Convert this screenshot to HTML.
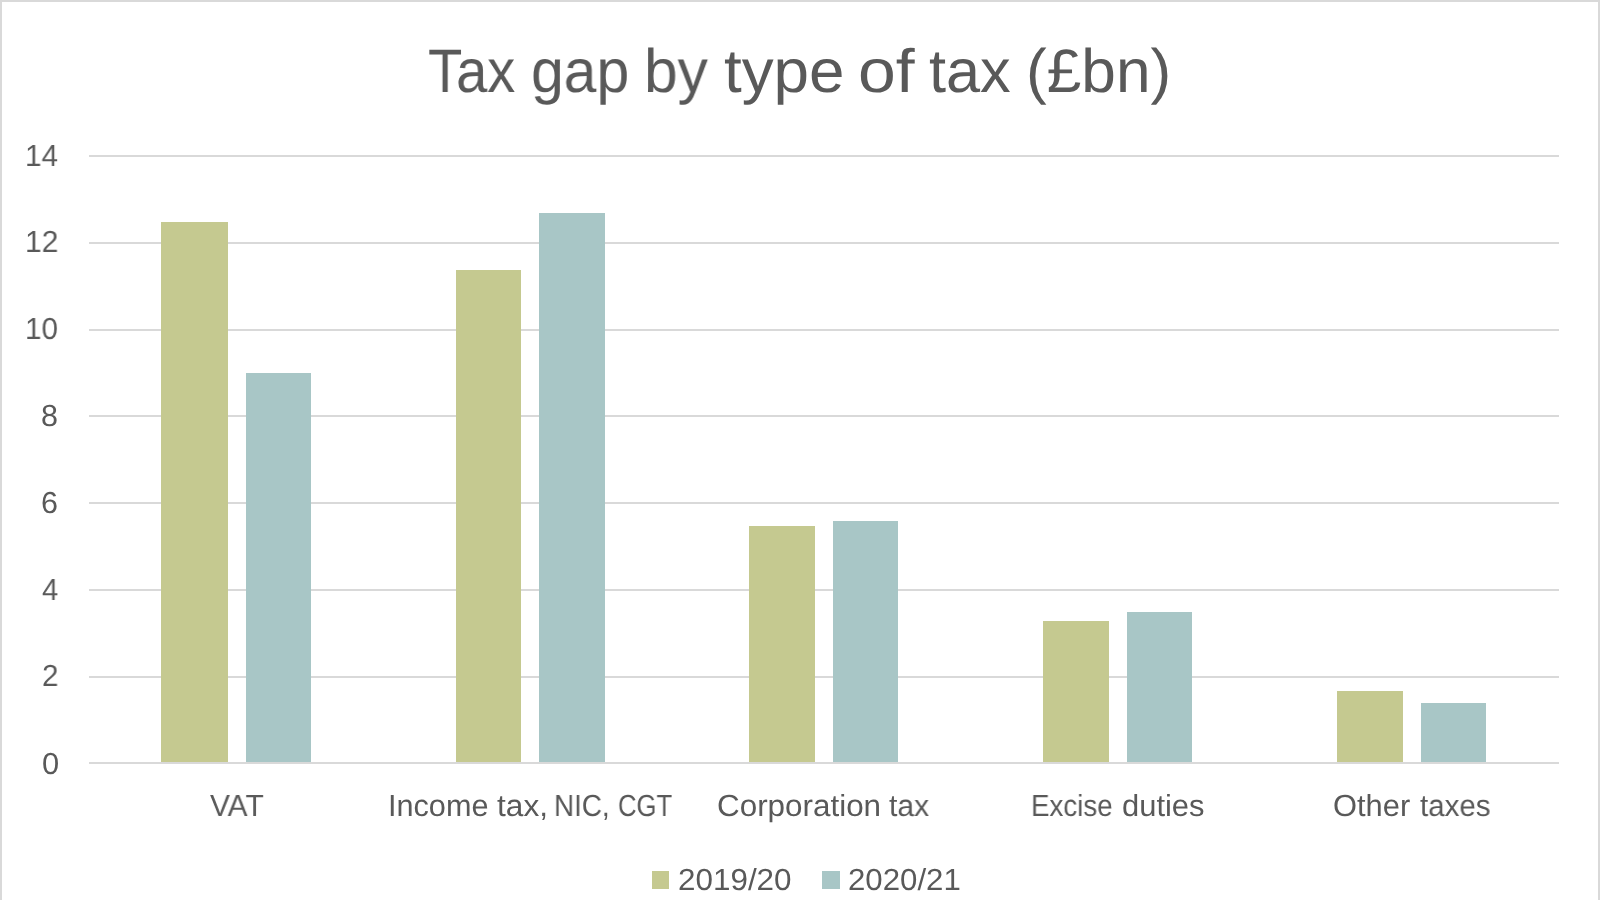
<!DOCTYPE html>
<html><head><meta charset="utf-8"><title>Tax gap by type of tax</title>
<style>
html,body{margin:0;padding:0;background:#fff;}
body{width:1600px;height:900px;position:relative;overflow:hidden;font-family:"Liberation Sans",sans-serif;color:#595959;}
.a{position:absolute;}
.t{position:absolute;white-space:nowrap;line-height:1;transform-origin:0 0;text-rendering:geometricPrecision;will-change:transform;}
</style></head><body>
<div class="a" style="left:89px;top:675.80px;width:1469.5px;height:2.2px;background:#d9d9d9"></div>
<div class="a" style="left:89px;top:589.20px;width:1469.5px;height:2.2px;background:#d9d9d9"></div>
<div class="a" style="left:89px;top:501.80px;width:1469.5px;height:2.2px;background:#d9d9d9"></div>
<div class="a" style="left:89px;top:415.30px;width:1469.5px;height:2.2px;background:#d9d9d9"></div>
<div class="a" style="left:89px;top:328.90px;width:1469.5px;height:2.2px;background:#d9d9d9"></div>
<div class="a" style="left:89px;top:241.80px;width:1469.5px;height:2.2px;background:#d9d9d9"></div>
<div class="a" style="left:89px;top:155.20px;width:1469.5px;height:2.2px;background:#d9d9d9"></div>
<div class="a" style="left:161.25px;top:221.90px;width:66.55px;height:540.10px;background:#c5c990"></div>
<div class="a" style="left:245.50px;top:373.40px;width:65.10px;height:388.60px;background:#a8c6c6"></div>
<div class="a" style="left:455.75px;top:269.70px;width:65.50px;height:492.30px;background:#c5c990"></div>
<div class="a" style="left:539.40px;top:212.50px;width:65.40px;height:549.50px;background:#a8c6c6"></div>
<div class="a" style="left:749.20px;top:525.60px;width:65.90px;height:236.40px;background:#c5c990"></div>
<div class="a" style="left:833.10px;top:520.75px;width:65.20px;height:241.25px;background:#a8c6c6"></div>
<div class="a" style="left:1043.20px;top:620.80px;width:65.80px;height:141.20px;background:#c5c990"></div>
<div class="a" style="left:1127.30px;top:612.00px;width:64.90px;height:150.00px;background:#a8c6c6"></div>
<div class="a" style="left:1337.00px;top:690.50px;width:65.80px;height:71.50px;background:#c5c990"></div>
<div class="a" style="left:1421.00px;top:703.30px;width:64.90px;height:58.70px;background:#a8c6c6"></div>
<div class="a" style="left:89px;top:762.00px;width:1469.5px;height:2.2px;background:#d9d9d9"></div>
<div class="a" style="left:0;top:0;width:1600px;height:2.4px;background:#d9d9d9"></div>
<div class="a" style="left:0;top:0;width:2.4px;height:900px;background:#d9d9d9"></div>
<div class="a" style="left:1597.6px;top:0;width:2.4px;height:900px;background:#d9d9d9"></div>
<div class="t" style="left:428.23px;top:41.35px;font-size:61.30px;transform:scaleX(0.9141)">Tax</div>
<div class="t" style="left:530.50px;top:41.35px;font-size:61.30px;transform:scaleX(0.9601)">gap</div>
<div class="t" style="left:644.08px;top:41.35px;font-size:61.30px;transform:scaleX(0.9876)">by</div>
<div class="t" style="left:723.54px;top:41.35px;font-size:61.30px;transform:scaleX(1.0407)">type</div>
<div class="t" style="left:858.37px;top:41.35px;font-size:61.30px;transform:scaleX(1.1077)">of</div>
<div class="t" style="left:929.08px;top:41.35px;font-size:61.30px;transform:scaleX(0.9975)">tax</div>
<div class="t" style="left:1025.62px;top:41.35px;font-size:61.30px;transform:scaleX(1.0147)">(£bn)</div>
<div class="t" style="left:25.08px;top:140.55px;font-size:30.50px;transform:scaleX(0.9730)">14</div>
<div class="t" style="left:24.86px;top:227.25px;font-size:30.50px;transform:scaleX(0.9828)">12</div>
<div class="t" style="left:24.88px;top:314.00px;font-size:30.50px;transform:scaleX(0.9712)">10</div>
<div class="t" style="left:41.39px;top:401.30px;font-size:30.50px;transform:scaleX(0.9987)">8</div>
<div class="t" style="left:41.42px;top:487.70px;font-size:30.50px;transform:scaleX(0.9909)">6</div>
<div class="t" style="left:41.81px;top:574.60px;font-size:30.50px;transform:scaleX(0.9612)">4</div>
<div class="t" style="left:41.78px;top:661.10px;font-size:30.50px;transform:scaleX(0.9692)">2</div>
<div class="t" style="left:41.53px;top:748.50px;font-size:30.50px;transform:scaleX(1.0129)">0</div>
<div class="t" style="left:209.60px;top:791.20px;font-size:30.50px;transform:scaleX(0.9793)">VAT</div>
<div class="t" style="left:388.00px;top:791.20px;font-size:30.50px;transform:scaleX(1.0046)">Income</div>
<div class="t" style="left:496.68px;top:791.20px;font-size:30.50px;transform:scaleX(1.0374)">tax,</div>
<div class="t" style="left:554.09px;top:791.20px;font-size:30.50px;transform:scaleX(0.9121)">NIC,</div>
<div class="t" style="left:617.76px;top:791.20px;font-size:30.50px;transform:scaleX(0.8408)">CGT</div>
<div class="t" style="left:717.46px;top:791.20px;font-size:30.50px;transform:scaleX(1.0296)">Corporation</div>
<div class="t" style="left:889.31px;top:791.20px;font-size:30.50px;transform:scaleX(0.9840)">tax</div>
<div class="t" style="left:1031.45px;top:791.20px;font-size:30.50px;transform:scaleX(0.9099)">Excise</div>
<div class="t" style="left:1121.52px;top:791.20px;font-size:30.50px;transform:scaleX(1.0141)">duties</div>
<div class="t" style="left:1333.08px;top:791.20px;font-size:30.50px;transform:scaleX(1.0117)">Other</div>
<div class="t" style="left:1419.62px;top:791.20px;font-size:30.50px;transform:scaleX(0.9663)">taxes</div>
<div class="t" style="left:677.58px;top:865.00px;font-size:30.50px;transform:scaleX(1.0299)">2019/20</div>
<div class="t" style="left:848.39px;top:865.00px;font-size:30.50px;transform:scaleX(1.0234)">2020/21</div>
<div class="a" style="left:651.5px;top:871.2px;width:17.8px;height:18.3px;background:#c5c990"></div>
<div class="a" style="left:822px;top:871.2px;width:18px;height:18.3px;background:#a8c6c6"></div>
</body></html>
